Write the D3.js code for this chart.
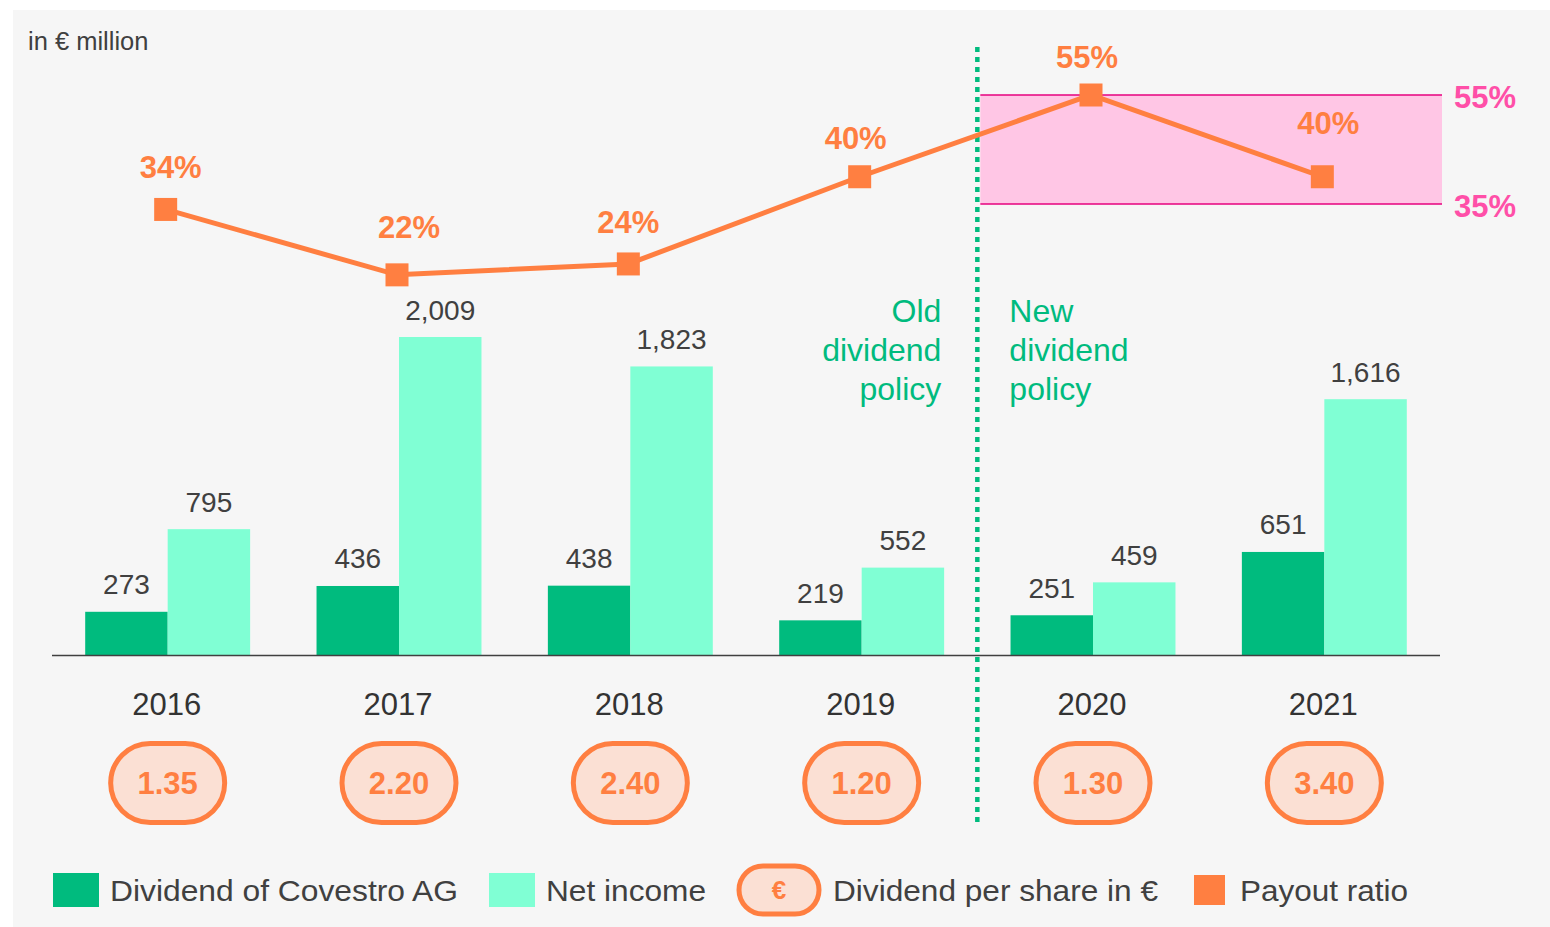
<!DOCTYPE html>
<html><head><meta charset="utf-8">
<script src="https://cdn.jsdelivr.net/npm/d3@7"></script>
<style>
html,body{margin:0;padding:0;background:#fff;}
svg{display:block;}
text{font-family:"Liberation Sans",Arial,sans-serif;}
</style></head>
<body>
<svg id="chart" width="1550" height="927"></svg>
<script>
const years = ["2016","2017","2018","2019","2020","2021"];
const dividend = [273, 436, 438, 219, 251, 651];
const netIncome = [795, 2009, 1823, 552, 459, 1616];
const payout = [34, 22, 24, 40, 55, 40];
const dps = ["1.35","2.20","2.40","1.20","1.30","3.40"];
const targetBand = [35, 55];
const legendLabels = ["Dividend of Covestro AG","Net income","Dividend per share in €","Payout ratio"];

const C = {dark:"#00bb7e", light:"#80ffd4", orange:"#ff7f41", pinkFill:"#ffc6e5", pinkLine:"#e6007e", pinkText:"#ff4fa8", text:"#404040", bubble:"#fbe0d4"};

const svg = d3.select("#chart");
svg.append("rect").attr("x",13).attr("y",10).attr("width",1537).attr("height",917).attr("fill","#f6f6f6");

const x0 = d3.scaleBand().domain(years).range([52,1440]).paddingInner(0.287).paddingOuter(0.1435);
const x1 = d3.scaleBand().domain(["div","net"]).range([0,x0.bandwidth()]);
const y = d3.scaleLinear().domain([0,2009]).range([655,337]);
const yp = d3.scaleLinear().domain([35,55]).range([204,95]);
const cx = d => x0(d) + x0.bandwidth()/2;

// unit label
svg.append("text").attr("x",28).attr("y",50).attr("font-family","'Open Sans',sans-serif").attr("font-size",25.5).attr("fill",C.text).text("in € million");

// pink target band
const divX = x0(years[4]) - (x0.step()-x0.bandwidth())/2;
const bandG = svg.append("g");
bandG.append("rect").attr("x",divX+3).attr("y",yp(targetBand[1])).attr("width",1442-divX-3).attr("height",yp(targetBand[0])-yp(targetBand[1])).attr("fill",C.pinkFill);
targetBand.forEach(v=>{
  bandG.append("line").attr("x1",divX+3).attr("x2",1442).attr("y1",yp(v)).attr("y2",yp(v)).attr("stroke",C.pinkLine).attr("stroke-width",1.5);
  bandG.append("text").attr("x",1454).attr("y",yp(v)+12.5).attr("font-size",31).attr("font-weight","bold").attr("fill",C.pinkText).text(v+"%");
});

// bars
const g = svg.append("g");
years.forEach((yr,i)=>{
  const gx = x0(yr);
  [["div",dividend[i],C.dark],["net",netIncome[i],C.light]].forEach(([k,v,col])=>{
    g.append("rect").attr("x",gx+x1(k)).attr("y",y(v)).attr("width",x1.bandwidth()).attr("height",y(0)-y(v)).attr("fill",col);
    g.append("text").attr("x",gx+x1(k)+x1.bandwidth()/2).attr("y",y(v)-17.5).attr("text-anchor","middle").attr("font-size",28).attr("fill",C.text).text(d3.format(",")(v));
  });
});

// baseline
svg.append("line").attr("x1",52).attr("x2",1440).attr("y1",655.5).attr("y2",655.5).attr("stroke","#404040").attr("stroke-width",1.5);

// year labels
years.forEach(yr=>{
  svg.append("text").attr("x",cx(yr)-1).attr("y",715).attr("text-anchor","middle").attr("font-size",31).attr("fill","#333").text(yr);
});

// divider
svg.append("line").attr("x1",divX).attr("x2",divX).attr("y1",47).attr("y2",824).attr("stroke",C.dark).attr("stroke-width",4.5).attr("stroke-dasharray","5,5");

// policy annotations
const oldT = svg.append("text").attr("text-anchor","end").attr("font-size",32).attr("fill",C.dark);
["Old","dividend","policy"].forEach((t,i)=>oldT.append("tspan").attr("x",divX-36).attr("y",322+i*39).text(t));
const newT = svg.append("text").attr("text-anchor","start").attr("font-size",32).attr("fill",C.dark);
["New","dividend","policy"].forEach((t,i)=>newT.append("tspan").attr("x",divX+32).attr("y",322+i*39).text(t));

// payout line
const line = d3.line().x((d,i)=>cx(years[i])-2).y(d=>yp(d));
svg.append("path").datum(payout).attr("d",line).attr("fill","none").attr("stroke",C.orange).attr("stroke-width",5);
const lblDx = [5,12,0,-4,-4,6], lblDy = [-31,-37,-31,-28,-27,-43];
payout.forEach((v,i)=>{
  const px = cx(years[i])-2;
  svg.append("rect").attr("x",px-11.5).attr("y",yp(v)-11.5).attr("width",23).attr("height",23).attr("fill",C.orange);
  svg.append("text").attr("x",px+lblDx[i]).attr("y",yp(v)+lblDy[i]).attr("text-anchor","middle").attr("font-size",31).attr("font-weight","bold").attr("fill",C.orange).text(v+"%");
});

// DPS bubbles
function pill(sel,cxp,cyp,w,h,label,fs){
  sel.append("rect").attr("x",cxp-w/2).attr("y",cyp-h/2).attr("width",w).attr("height",h).attr("rx",h/2).attr("ry",h/2)
    .attr("fill",C.bubble).attr("stroke",C.orange).attr("stroke-width",5);
  sel.append("text").attr("x",cxp).attr("y",cyp+fs*0.36).attr("text-anchor","middle").attr("font-size",fs).attr("font-weight","bold").attr("fill",C.orange).text(label);
}
dps.forEach((d,i)=>pill(svg,cx(years[i]),783,114,79,d,31));

// legend
const lg = svg.append("g");
lg.append("rect").attr("x",53).attr("y",873).attr("width",46).attr("height",34).attr("fill",C.dark);
lg.append("text").attr("x",110).attr("y",901).attr("font-size",30).attr("fill",C.text).attr("textLength",348).attr("lengthAdjust","spacingAndGlyphs").text(legendLabels[0]);
lg.append("rect").attr("x",489).attr("y",873).attr("width",46).attr("height",34).attr("fill",C.light);
lg.append("text").attr("x",546).attr("y",901).attr("font-size",30).attr("fill",C.text).attr("textLength",160).attr("lengthAdjust","spacingAndGlyphs").text(legendLabels[1]);
pill(lg,779,890,80,48,"€",26);
lg.append("text").attr("x",833).attr("y",901).attr("font-size",30).attr("fill",C.text).attr("textLength",325).attr("lengthAdjust","spacingAndGlyphs").text(legendLabels[2]);
lg.append("rect").attr("x",1194).attr("y",875).attr("width",31).attr("height",30).attr("fill",C.orange);
lg.append("text").attr("x",1240).attr("y",901).attr("font-size",30).attr("fill",C.text).attr("textLength",168).attr("lengthAdjust","spacingAndGlyphs").text(legendLabels[3]);
</script>
</body></html>
